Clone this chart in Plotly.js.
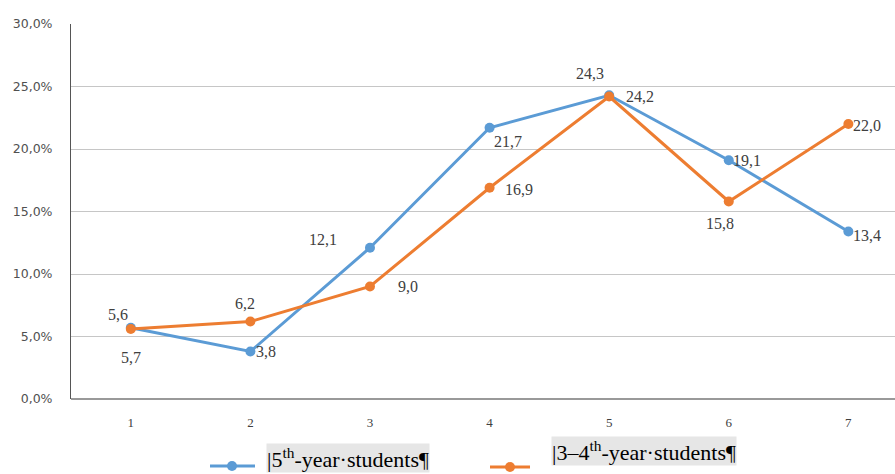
<!DOCTYPE html>
<html><head><meta charset="utf-8">
<script src="https://cdn.plot.ly/plotly-3.0.1.min.js"></script>
<style>html,body{margin:0;padding:0;background:#fff}#chart{width:895px;height:474px}</style>
</head><body><div id="chart"></div>
<script>
const categories = [1, 2, 3, 4, 5, 6, 7];
const fifthYear = [5.7, 3.8, 12.1, 21.7, 24.3, 19.1, 13.4];
const thirdFourthYear = [5.6, 6.2, 9.0, 16.9, 24.2, 15.8, 22.0];
const yTicks = [0, 5, 10, 15, 20, 25, 30];
const seriesNames = ['5th-year students', '3–4th-year students'];

const blue = '#5B9BD5', orange = '#ED7D31';
// label pixel offsets [dx, dy] (dy positive = up)
const blueOff = [[0,-30],[16,0],[-47,8],[18,-14],[-19,22],[18,0],[19,-4]];
const orangeOff = [[-13,15],[-5,18],[38,0],[29,-2],[31,0],[-9,-22],[19,-1]];

const fmt = v => v.toFixed(1).replace('.', ',');

const traces = [
  {x: categories, y: fifthYear, name: seriesNames[0], type: 'scatter', mode: 'lines+markers',
   line: {color: blue, width: 3}, marker: {color: blue, size: 10}, showlegend: false},
  {x: categories, y: thirdFourthYear, name: seriesNames[1], type: 'scatter', mode: 'lines+markers',
   line: {color: orange, width: 3}, marker: {color: orange, size: 10}, showlegend: false}
];

const annotations = [];
const labFont = {family: 'Liberation Serif, Times New Roman, serif', size: 16, color: '#404040'};
categories.forEach((c, i) => {
  annotations.push({x: c, y: fifthYear[i], text: fmt(fifthYear[i]), showarrow: false,
    xshift: blueOff[i][0], yshift: blueOff[i][1], font: labFont});
  annotations.push({x: c, y: thirdFourthYear[i], text: fmt(thirdFourthYear[i]), showarrow: false,
    xshift: orangeOff[i][0], yshift: orangeOff[i][1], font: labFont});
});

const L = 71, W = 824, T = 24, H = 375;
const px = v => (v - L) / W;
const py = v => (T + H - v) / H;
const legFont = {family: 'Liberation Serif, Times New Roman, serif', size: 22, color: '#000'};
annotations.push({xref: 'paper', yref: 'paper', x: px(266), y: py(473), xanchor: 'left', yanchor: 'bottom',
  text: '|5<sup>th</sup>-year·students¶', showarrow: false, bgcolor: '#e6e6e6', font: legFont, borderpad: 0});
annotations.push({xref: 'paper', yref: 'paper', x: px(551), y: py(451), xanchor: 'left', yanchor: 'middle',
  text: '|3–4<sup>th</sup>-year·students¶', showarrow: false, bgcolor: '#e6e6e6', font: legFont, borderpad: 0});

const shapes = [
  {type: 'line', xref: 'paper', yref: 'paper', x0: px(210), x1: px(255), y0: py(466), y1: py(466), line: {color: blue, width: 3}},
  {type: 'circle', xref: 'paper', yref: 'paper', x0: px(227), x1: px(237), y0: py(461), y1: py(471), fillcolor: blue, line: {color: blue, width: 0}},
  {type: 'line', xref: 'paper', yref: 'paper', x0: px(490), x1: px(530), y0: py(467), y1: py(467), line: {color: orange, width: 3}},
  {type: 'circle', xref: 'paper', yref: 'paper', x0: px(505), x1: px(515), y0: py(462), y1: py(472), fillcolor: orange, line: {color: orange, width: 0}}
];

const yFont = {family: 'DejaVu Sans, sans-serif', size: 12.5, color: '#505050'};
const xFont = {family: 'Liberation Serif, Times New Roman, serif', size: 13, color: '#404040'};
const layout = {
  width: 895, height: 474,
  margin: {l: L, r: 0, t: T, b: 474 - T - H, pad: 0},
  paper_bgcolor: '#fff', plot_bgcolor: '#fff',
  showlegend: false,
  xaxis: {range: [0.5, 7.39], tickmode: 'array', tickvals: categories, ticktext: categories.map(String),
    showgrid: false, zeroline: false, showline: false, ticks: '', tickfont: xFont, ticklabelstandoff: 14, fixedrange: true},
  yaxis: {range: [0, 30], tickmode: 'array', tickvals: yTicks, ticktext: yTicks.map(v => fmt(v) + '%'),
    showgrid: true, gridcolor: '#c6c6c6', gridwidth: 1, zeroline: true, zerolinecolor: '#999', zerolinewidth: 1.5,
    showline: true, linecolor: '#555', linewidth: 1, ticks: '', tickfont: yFont, ticklabelstandoff: 15, fixedrange: true},
  annotations: annotations,
  shapes: shapes
};

Plotly.newPlot('chart', traces, layout, {staticPlot: true, displayModeBar: false});
</script></body></html>
